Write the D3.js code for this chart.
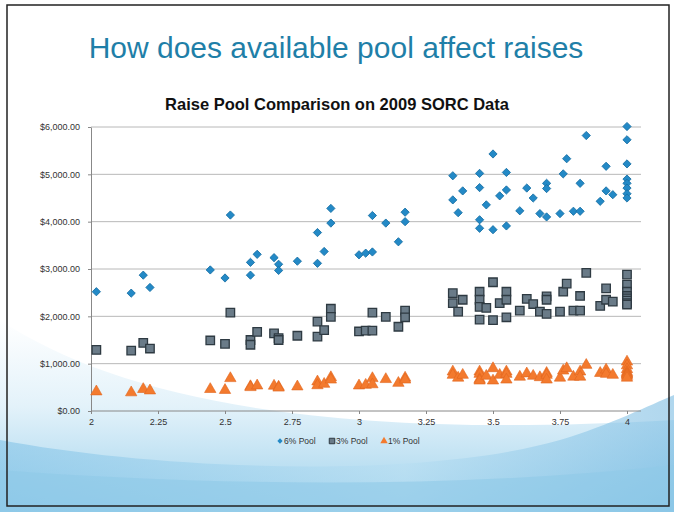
<!DOCTYPE html>
<html>
<head>
<meta charset="utf-8">
<script src="https://cdn.jsdelivr.net/npm/d3@7"></script>
<style>
  body { margin: 0; background: #fff; }
  svg { display: block; font-family: "Liberation Sans", Arial, sans-serif; }
</style>
</head>
<body>
<div id="chart"></div>
<script>
var W = 674, H = 512;

// GPA-like x values and the raise for each pool size
var gpa = [2.02, 2.15, 2.195, 2.22, 2.445, 2.5, 2.52, 2.595, 2.595, 2.62, 2.683, 2.7, 2.7, 2.77,
  2.845, 2.845, 2.87, 2.895, 2.895, 3.0, 3.025, 3.05, 3.05, 3.1, 3.147, 3.172, 3.172,
  3.35, 3.35, 3.37, 3.387, 3.45, 3.45, 3.45, 3.45, 3.475, 3.5, 3.5, 3.525, 3.55, 3.55, 3.55,
  3.6, 3.626, 3.65, 3.675, 3.7, 3.7, 3.7, 3.75, 3.762, 3.775, 3.8, 3.825, 3.825, 3.848,
  3.9, 3.922, 3.922, 3.947, 4, 4, 4, 4, 4, 4, 4, 4];
var pool6 = [2520, 2490, 2870, 2610, 2980, 2810, 4140, 3140, 2870, 3310, 3240, 3100, 2970, 3165,
  3770, 3120, 3370, 4280, 3970, 3300, 3335, 4130, 3360, 3970, 3575, 4200, 4000,
  4970, 4460, 4190, 4650, 5020, 4720, 4040, 3860, 4355, 5430, 3830, 4545, 5040, 4670, 3910,
  4230, 4710, 4500, 4170, 4810, 4700, 4100, 4170, 5010, 5330, 4220, 4810, 4220, 5820,
  4430, 5170, 4650, 4570, 6010, 5730, 5220, 4900, 4810, 4710, 4590, 4500];
var pool3 = [1290, 1275, 1440, 1320, 1490, 1420, 2080, 1500, 1400, 1670, 1640, 1540, 1500, 1590,
  1890, 1570, 1710, 2160, 1990, 1680, 1700, 2080, 1700, 1990, 1780, 2120, 1980,
  2490, 2280, 2100, 2350, 2520, 2350, 2200, 1930, 2180, 2720, 1920, 2280, 2520, 2350, 1980,
  2120, 2370, 2260, 2100, 2420, 2350, 2050, 2100, 2520, 2690, 2120, 2430, 2120, 2920,
  2220, 2590, 2350, 2310, 2880, 2670, 2520, 2430, 2380, 2330, 2280, 2250];
var pool1 = [410, 390, 460, 430, 460, 440, 690, 520, 500, 535, 530, 510, 490, 515,
  620, 540, 570, 710, 660, 535, 550, 690, 560, 670, 590, 700, 660,
  830, 760, 700, 760, 830, 780, 670, 640, 740, 900, 640, 760, 830, 780, 660,
  720, 790, 740, 710, 800, 760, 660, 700, 850, 900, 720, 830, 720, 970,
  800, 870, 780, 760, 1040, 960, 880, 820, 790, 770, 740, 700];

var xTicks = [2, 2.25, 2.5, 2.75, 3, 3.25, 3.5, 3.75, 4];
var yTicks = [0, 1000, 2000, 3000, 4000, 5000, 6000];
var seriesNames = ['6% Pool', '3% Pool', '1% Pool'];

var blue = '#2389c6', grayFill = '#6a7b88', grayEdge = '#2e3a42', orange = '#f37a2e';

var svg = d3.select('#chart').append('svg')
  .attr('width', W)
  .attr('height', H);

// slide background swoosh
var defs = svg.append('defs');
var g1 = defs.append('linearGradient').attr('id', 'sw1').attr('x1', 0).attr('y1', 0).attr('x2', 0).attr('y2', 1);
g1.append('stop').attr('offset', '0%').attr('stop-color', '#ffffff');
g1.append('stop').attr('offset', '45%').attr('stop-color', '#e3f2fa');
g1.append('stop').attr('offset', '100%').attr('stop-color', '#9fd2ec');
var g2 = defs.append('linearGradient').attr('id', 'sw2').attr('x1', 0).attr('y1', 0).attr('x2', 1).attr('y2', 0);
g2.append('stop').attr('offset', '0%').attr('stop-color', '#7cc0e6');
g2.append('stop').attr('offset', '60%').attr('stop-color', '#b7def2');
g2.append('stop').attr('offset', '100%').attr('stop-color', '#6fb6e0');

svg.append('path')
  .attr('d', 'M0,320 C120,400 330,440 674,420 L674,512 L0,512 Z')
  .attr('fill', 'url(#sw1)');
svg.append('path')
  .attr('d', 'M0,440 C160,470 420,480 560,440 C610,425 650,405 674,395 L674,512 L0,512 Z')
  .attr('fill', 'url(#sw2)')
  .attr('opacity', 0.55);
svg.append('path')
  .attr('d', 'M0,470 C200,485 450,490 674,465 L674,512 L0,512 Z')
  .attr('fill', '#8fc9e8')
  .attr('opacity', 0.6);

// slide frame
svg.append('rect')
  .attr('x', 7).attr('y', 5)
  .attr('width', 662).attr('height', 501)
  .attr('fill', 'none')
  .attr('stroke', '#222')
  .attr('stroke-width', 1.5);

// slide title
svg.append('text')
  .attr('x', 336).attr('y', 58)
  .attr('text-anchor', 'middle')
  .attr('font-size', '30px')
  .attr('fill', '#1f7fa8')
  .text('How does available pool affect raises');

// chart title
svg.append('text')
  .attr('x', 337).attr('y', 110)
  .attr('text-anchor', 'middle')
  .attr('font-size', '16.5px')
  .attr('font-weight', 'bold')
  .attr('fill', '#111')
  .text('Raise Pool Comparison on 2009 SORC Data');

var left = 91, right = 641;
var x = d3.scaleLinear().domain([2, 4]).range([91, 627]);
var y = d3.scaleLinear().domain([0, 6000]).range([411, 127]);

// gridlines
svg.append('g')
  .selectAll('line')
  .data(yTicks.slice(1))
  .enter()
  .append('line')
  .attr('x1', left).attr('x2', right)
  .attr('y1', function(d) { return y(d); })
  .attr('y2', function(d) { return y(d); })
  .attr('stroke', '#b8b8b8')
  .attr('stroke-width', 1);

// y axis
var yAxis = svg.append('g')
  .attr('transform', 'translate(' + left + ',0)')
  .call(d3.axisLeft(y).tickValues(yTicks).tickSize(3).tickSizeOuter(0).tickPadding(8)
    .tickFormat(function(d) { return '$' + d3.format(',.2f')(d); }));
yAxis.select('.domain').attr('stroke', '#888');
yAxis.selectAll('line').attr('stroke', '#888');
yAxis.selectAll('text').attr('font-size', '9px').attr('fill', '#333')
  .attr('font-family', '"Liberation Sans", Arial, sans-serif');

// x axis
var xAxis = svg.append('g')
  .attr('transform', 'translate(0,' + y(0) + ')')
  .call(d3.axisBottom(x).tickValues(xTicks).tickSize(3).tickSizeOuter(0)
    .tickFormat(function(d) { return d3.format('')(d); }));
xAxis.select('.domain').attr('d', 'M' + left + ',0H' + right).attr('stroke', '#888');
xAxis.selectAll('line').attr('stroke', '#888');
xAxis.selectAll('text').attr('font-size', '9px').attr('fill', '#333').attr('dy', '0.9em')
  .attr('font-family', '"Liberation Sans", Arial, sans-serif');

// markers
var diamond = d3.symbol().type(d3.symbolSquare).size(34);
var square = d3.symbol().type(d3.symbolSquare).size(72);
var triangle = d3.symbol().type(d3.symbolTriangle).size(56);

svg.append('g').selectAll('path')
  .data(d3.range(gpa.length))
  .enter()
  .append('path')
  .attr('d', square)
  .attr('transform', function(i) { return 'translate(' + x(gpa[i]) + ',' + y(pool3[i]) + ')'; })
  .attr('fill', grayFill)
  .attr('stroke', grayEdge)
  .attr('stroke-width', 1.3);

svg.append('g').selectAll('path')
  .data(d3.range(gpa.length))
  .enter()
  .append('path')
  .attr('d', triangle)
  .attr('transform', function(i) { return 'translate(' + x(gpa[i]) + ',' + y(pool1[i]) + ')'; })
  .attr('fill', orange)
  .attr('stroke', '#e0651c')
  .attr('stroke-width', 0.6);

svg.append('g').selectAll('path')
  .data(d3.range(gpa.length))
  .enter()
  .append('path')
  .attr('d', diamond)
  .attr('transform', function(i) { return 'translate(' + x(gpa[i]) + ',' + y(pool6[i]) + ') rotate(45)'; })
  .attr('fill', blue)
  .attr('stroke', '#156ea3')
  .attr('stroke-width', 0.8);

// legend
var legend = svg.append('g').attr('transform', 'translate(280,441)');
var legendX = [0, 52, 104];
var legendSym = [d3.symbol().type(d3.symbolSquare).size(14), d3.symbol().type(d3.symbolSquare).size(30), d3.symbol().type(d3.symbolTriangle).size(24)];
var legendFill = [blue, grayFill, orange];
legend.selectAll('path')
  .data(seriesNames)
  .enter()
  .append('path')
  .attr('d', function(d, i) { return legendSym[i](); })
  .attr('transform', function(d, i) { return 'translate(' + legendX[i] + ',0)' + (i == 0 ? ' rotate(45)' : ''); })
  .attr('fill', function(d, i) { return legendFill[i]; })
  .attr('stroke', function(d, i) { return i == 1 ? grayEdge : 'none'; });
legend.selectAll('text')
  .data(seriesNames)
  .enter()
  .append('text')
  .attr('x', function(d, i) { return legendX[i] + 4; })
  .attr('y', 3)
  .attr('font-size', '8.5px')
  .attr('fill', '#333')
  .text(function(d) { return d; });
</script>
</body>
</html>
